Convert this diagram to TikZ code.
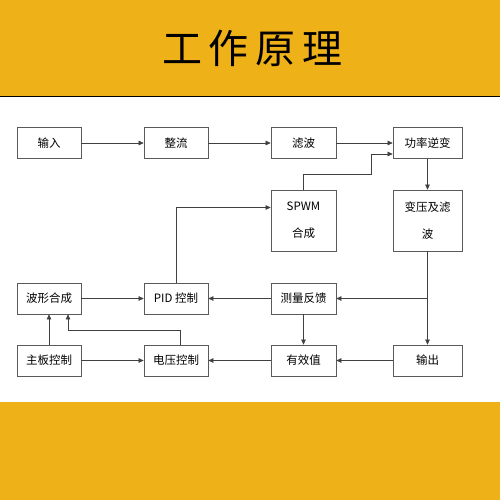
\documentclass[tikz,border=0pt]{standalone}
\usepackage{fontspec}
\newfontfamily\cjk{Noto Sans CJK SC}
\usetikzlibrary{arrows.meta}
\definecolor{bandyellow}{RGB}{239,177,24}
\definecolor{boxline}{RGB}{90,90,90}
\begin{document}
\begin{tikzpicture}[x=1pt, y=-1pt,
  blk/.style={draw=boxline, line width=0.7pt, inner sep=0pt, font=\cjk\fontsize{11.5}{13}\selectfont, align=center},
  sq/.style={blk, minimum width=64pt, minimum height=31pt},
  wide/.style={blk, minimum width=69pt, minimum height=31pt},
  tall/.style={blk, minimum height=61pt},
  arr/.style={draw=black!75, line width=0.6pt, -{Triangle[length=5pt,width=4.5pt]}}]
\useasboundingbox (0,0) rectangle (500,500);
\fill[white] (0,0) rectangle (500,500);
\fill[bandyellow] (0,0) rectangle (500,96.5);
\draw[black, line width=1pt] (0,97) -- (500,97);
\fill[bandyellow] (0,402) rectangle (500,500);
\node[font=\cjk\fontsize{40}{40}\selectfont] at (252,48) (title) {工\,作\,原\,理};

% top row
\node[sq] at (49,143) (inp) {输入};
\node[sq] at (176,143) (rect) {整流};
\node[sq, minimum width=65pt] at (303.5,143) (filt) {滤波};
\node[wide] at (427.5,143) (inv) {功率逆变};
% middle
\node[tall, minimum width=65pt] at (303.5,220.5) (spwm) {SPWM\\[14pt]合成};
\node[tall, minimum width=69pt] at (427.5,220.5) (trans) {变压及滤\\[14pt]波};
% lower rows
\node[sq] at (49,298.5) (wave) {波形合成};
\node[sq] at (176,298.5) (pid) {PID 控制};
\node[sq, minimum width=65pt] at (303.5,298.5) (meas) {测量反馈};
\node[sq] at (49,360.5) (main) {主板控制};
\node[sq] at (176,360.5) (volt) {电压控制};
\node[sq, minimum width=65pt] at (303.5,360.5) (rms) {有效值};
\node[wide] at (427.5,360.5) (out) {输出};

\draw[arr] (inp) -- (rect);
\draw[arr] (rect) -- (filt);
\draw[arr] (filt) -- (inv);
\draw[arr] (spwm.north) -- ++(0,-15) -| ([xshift=-21pt,yshift=-11pt]inv.west) -- ([yshift=-11pt]inv.west);
\draw[arr] (pid.north) |- ([yshift=13pt]spwm.west);
\draw[arr] (inv) -- (trans);
\draw[arr] (trans) -- (out);
\coordinate (tap) at (trans.south |- meas.east);
\draw[arr] (tap) -- (meas.east);
\draw[arr] (meas) -- (pid);
\draw[arr] (meas) -- (rms);
\draw[arr] (out) -- (rms);
\draw[arr] (rms) -- (volt);
\draw[arr] (main) -- (volt);
\draw[arr] (main) -- (wave);
\draw[arr] (wave) -- (pid);
\draw[arr] ([xshift=4pt]volt.north) -- ++(0,-14) -| ([xshift=19pt]wave.south);
\end{tikzpicture}
\end{document}
